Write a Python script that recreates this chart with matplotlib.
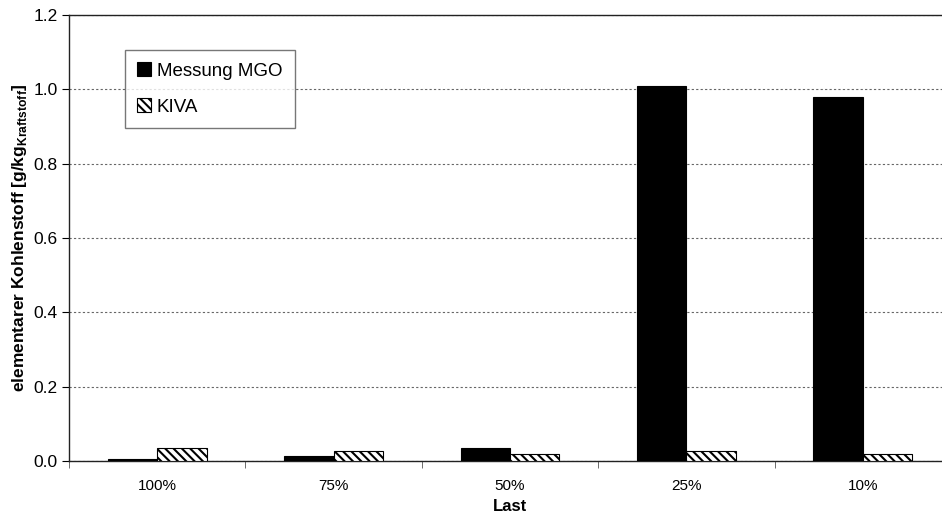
import matplotlib
matplotlib.use("Agg")
import matplotlib.pyplot as plt
import numpy as np

plt.rcParams["font.family"] = ["Liberation Sans", "DejaVu Sans"]
plt.rcParams["mathtext.fontset"] = "custom"
plt.rcParams["mathtext.rm"] = "Liberation Sans"
plt.rcParams["mathtext.bf"] = "Liberation Sans:bold"
plt.rcParams["hatch.linewidth"] = 1.5

# ── Data ────────────────────────────────────────────────────────────────
categories = ["100%", "75%", "50%", "25%", "10%"]
messung_mgo = [0.006, 0.013, 0.036, 1.01, 0.98]
kiva = [0.035, 0.027, 0.020, 0.027, 0.018]
y_ticks = [0.0, 0.2, 0.4, 0.6, 0.8, 1.0, 1.2]

fig = plt.figure(figsize=(9.42, 5.2), dpi=100)
# axes extends a little past the right edge, as in the original export
ax = fig.add_axes([69 / 942, 1 - 461 / 520, 882 / 942, 446 / 520])

x = np.arange(len(categories))
w = 0.28
ax.bar(x - w / 2, messung_mgo, w, color="black", edgecolor="black",
       linewidth=0.8, label="Messung MGO", zorder=3)
ax.bar(x + w / 2, kiva, w, color="white", edgecolor="black", hatch="\\\\\\\\",
       linewidth=0.8, label="KIVA", zorder=3)

ax.set_xlim(-0.5, len(categories) - 0.5)
ax.set_ylim(0, 1.2)
ax.set_yticks(y_ticks)
ax.set_yticklabels([f"{v:.1f}" for v in y_ticks])
ax.set_xticks(x)
ax.set_xticklabels(categories)
ax.set_xticks(np.arange(len(categories) + 1) - 0.5, minor=True)
ax.tick_params(axis="x", which="major", length=0, pad=13, labelsize=11)
ax.tick_params(axis="x", which="minor", length=5, direction="out", color="#555555")
ax.tick_params(axis="y", length=5, direction="out", labelsize=12.5, pad=3)

ax.yaxis.grid(True, linestyle=(0, (2, 2)), color="#666666", linewidth=0.8)
ax.set_axisbelow(True)
for s in ("left", "bottom", "top"):
    ax.spines[s].set_linewidth(1.0)
    ax.spines[s].set_color("#222222")
ax.spines["right"].set_visible(False)

ax.set_xlabel("Last", fontweight="bold", fontsize=12, labelpad=4)
ax.set_ylabel(r"elementarer Kohlenstoff [g/kg$_{\mathbf{Kraftstoff}}$]",
              fontweight="bold", fontsize=12.5, labelpad=3)

leg = ax.legend(loc="upper left", bbox_to_anchor=(56 / 882, 1 - 35 / 446),
                fontsize=13.5, frameon=True, fancybox=False, borderpad=0.65,
                handlelength=0.75, handleheight=0.75, handletextpad=0.3,
                labelspacing=1.0, borderaxespad=0)
leg.get_frame().set_edgecolor("#555555")
leg.get_frame().set_linewidth(1.0)

fig.savefig("out.png", dpi=100)
